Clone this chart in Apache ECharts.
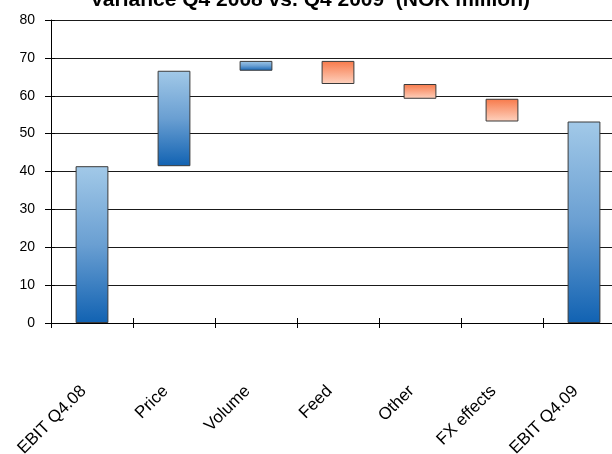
<!DOCTYPE html>
<html>
<head>
<meta charset="utf-8">
<title>Variance Q4 2008 vs. Q4 2009</title>
<script src="https://cdn.jsdelivr.net/npm/echarts@6/dist/echarts.min.js"></script>
<style>
  html, body { margin: 0; padding: 0; background: #ffffff; }
  #chart { width: 612px; height: 454px; }
</style>
</head>
<body>
<div id="chart"></div>
<script>
// Bridge from EBIT Q4.08 to EBIT Q4.09, NOK million
var categories = ['EBIT Q4.08', 'Price', 'Volume', 'Feed', 'Other', 'FX effects', 'EBIT Q4.09'];
var steps = [41.4, 25.2, 2.6, -6.1, -3.9, -6.0, 53.2];   // first and last are totals
var isTotal = [true, false, false, false, false, false, true];
var yTicks = { min: 0, max: 80, interval: 10 };

// Floating bar geometry from the running total
var base = [], height = [], running = 0;
for (var i = 0; i < steps.length; i++) {
  if (isTotal[i]) {
    base.push(0);
    height.push(steps[i]);
    running = steps[i];
  } else {
    var next = running + steps[i];
    base.push(Math.min(running, next));
    height.push(Math.abs(steps[i]));
    running = next;
  }
}

var blueFill = new echarts.graphic.LinearGradient(0, 0, 0, 1, [
  { offset: 0, color: '#a2c9e8' },
  { offset: 0.5, color: '#6a9fd2' },
  { offset: 1, color: '#1162b2' }
]);
var orangeFill = new echarts.graphic.LinearGradient(0, 0, 0, 1, [
  { offset: 0, color: '#f7794a' },
  { offset: 1, color: '#fed2bf' }
]);

var visible = height.map(function (h, i) {
  var up = isTotal[i] || steps[i] >= 0;
  return {
    value: h,
    itemStyle: {
      color: up ? blueFill : orangeFill,
      borderColor: '#3a3a3a',
      borderWidth: 1
    }
  };
});

var chart = echarts.init(document.getElementById('chart'), null, { renderer: 'canvas' });
chart.setOption({
  animation: false,
  backgroundColor: '#ffffff',
  title: {
    text: 'Variance Q4 2008 vs. Q4 2009  (NOK million)',
    left: 310,
    textAlign: 'center',
    top: -10,
    padding: 0,
    textStyle: {
      fontFamily: 'Liberation Sans, Arial, sans-serif',
      fontWeight: 'bold',
      fontSize: 21,
      color: '#000000'
    }
  },
  grid: {
    left: 51, right: -13, top: 20, bottom: 131,
    containLabel: false,
    outerBoundsMode: 'none'
  },
  xAxis: [{
    type: 'category',
    data: categories,
    boundaryGap: true,
    axisLine: { lineStyle: { color: '#000000', width: 1 } },
    axisTick: { show: true, interval: 0, length: 5, lineStyle: { color: '#000000' } },
    axisLabel: {
      interval: 0,
      rotate: 45,
      margin: 57,
      padding: [0, 12, 0, 0],
      fontFamily: 'Liberation Sans, Arial, sans-serif',
      fontSize: 17,
      color: '#000000'
    }
  }, {
    type: 'category',
    data: categories,
    position: 'bottom',
    boundaryGap: true,
    axisLine: { show: false },
    axisTick: { show: true, interval: 0, inside: true, length: 5, lineStyle: { color: '#000000' } },
    axisLabel: { show: false, interval: 0 }
  }],
  yAxis: [{
    type: 'value',
    min: yTicks.min,
    max: yTicks.max,
    interval: yTicks.interval,
    axisLine: { show: true, lineStyle: { color: '#000000', width: 1 } },
    axisTick: { show: true, length: 6, lineStyle: { color: '#000000' } },
    axisLabel: {
      margin: 16,
      fontFamily: 'Liberation Sans, Arial, sans-serif',
      fontSize: 14,
      color: '#000000'
    },
    splitLine: { show: true, lineStyle: { color: '#1a1a1a', width: 1 } }
  }, {
    type: 'value',
    position: 'left',
    min: yTicks.min,
    max: yTicks.max,
    interval: yTicks.interval,
    axisLine: { show: false },
    axisTick: { show: true, inside: true, length: 4, lineStyle: { color: '#000000' } },
    axisLabel: { show: false },
    splitLine: { show: false }
  }],
  series: [{
    name: 'base',
    type: 'bar',
    stack: 'bridge',
    data: base,
    barWidth: '40%',
    itemStyle: { color: 'transparent', borderColor: 'transparent' },
    silent: true
  }, {
    name: 'change',
    type: 'bar',
    stack: 'bridge',
    data: visible,
    barWidth: '40%'
  }]
});
</script>
</body>
</html>
